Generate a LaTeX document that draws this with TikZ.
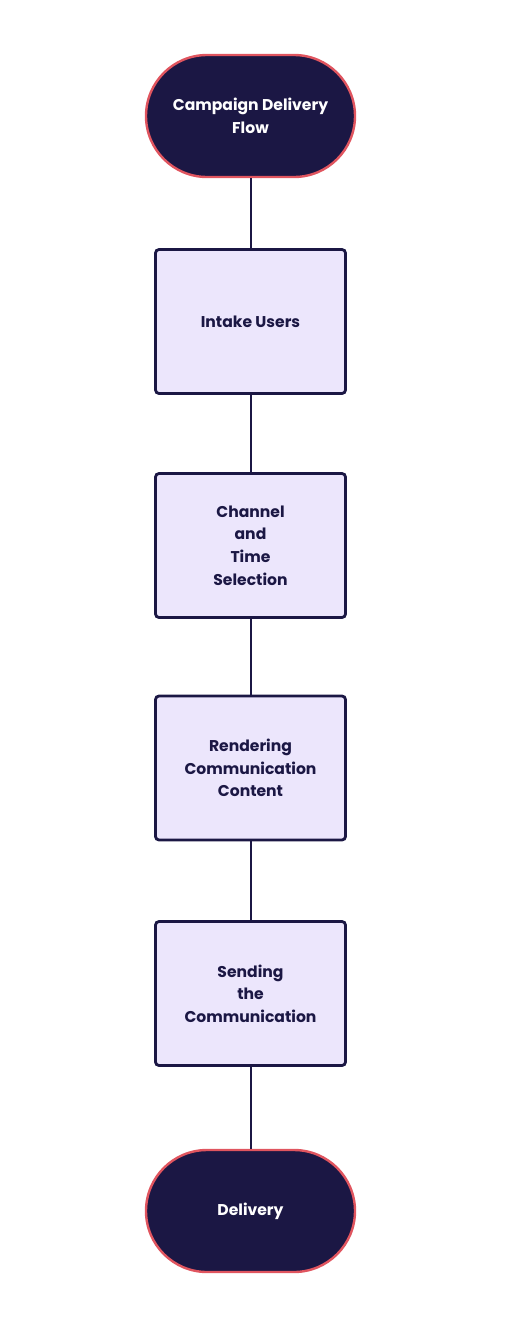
\documentclass[tikz,border=0pt]{standalone}
\usepackage{fontspec}
\setmainfont{Poppins}
\usepackage{tikz}
\usetikzlibrary{positioning,calc}
\definecolor{ink}     {HTML}{1B1744}
\definecolor{coral}   {HTML}{E0555F}
\definecolor{lavender}{HTML}{ECE6FC}
\tikzset{
  every node/.style={font=\fontsize{15.6}{22.6}\selectfont\bfseries},
  % --- nodes
  term/.style  = {rectangle, rounded corners=61pt, draw=coral, fill=ink, text=white,
                  line width=2.4pt, minimum width=209pt, minimum height=122pt,
                  align=center, inner sep=0pt},
  stage/.style = {rectangle, rounded corners=3.5pt, draw=ink, fill=lavender, text=ink,
                  line width=2.8pt, minimum width=190pt, minimum height=144pt,
                  align=center, inner sep=0pt},
  % --- edges
  e/.style     = {draw=ink, line width=2pt},
}
\begin{document}
\begin{tikzpicture}[x=1pt,y=1pt]
  \useasboundingbox (0,0) rectangle (508,-1323);

  % terminals + stages, top to bottom
  \node[term]  (start)  at (250.5,-116)   {Campaign Delivery\\Flow};
  \node[stage] (intake) at (250.5,-321.5) {Intake Users};
  \node[stage] (chan)   at (250.5,-545.5) {Channel\\and\\Time\\Selection};
  \node[stage] (render) at (250.5,-768)   {Rendering\\Communication\\Content};
  \node[stage] (send)   at (250.5,-993.5) {Sending\\the\\Communication};
  \node[term]  (deliv)  at (250.5,-1211)  {Delivery};

  % connectors
  \draw[e] (start)  -- (intake);
  \draw[e] (intake) -- (chan);
  \draw[e] (chan)   -- (render);
  \draw[e] (render) -- (send);
  \draw[e] (send)   -- (deliv);
\end{tikzpicture}
\end{document}
